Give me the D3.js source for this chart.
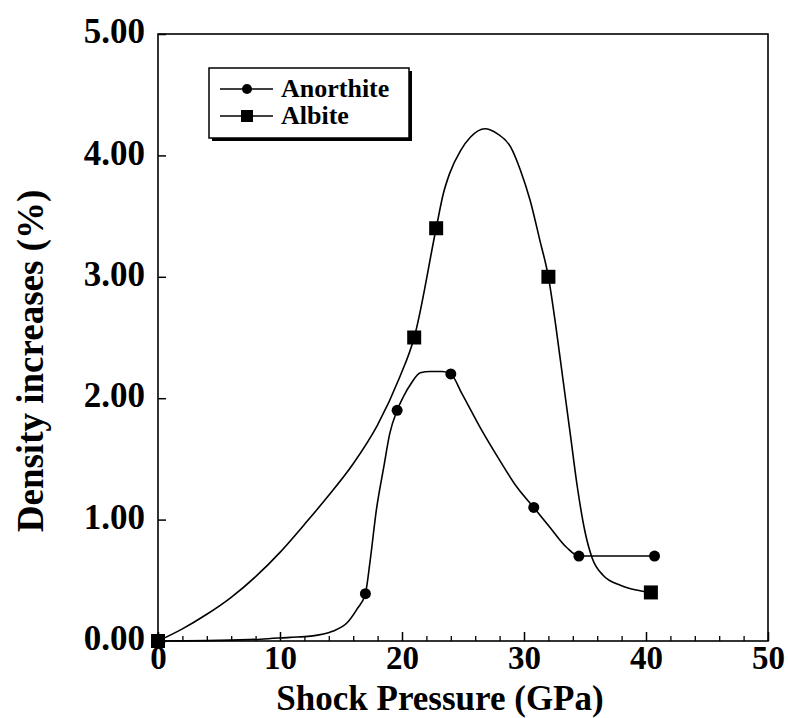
<!DOCTYPE html>
<html>
<head>
<meta charset="utf-8">
<script src="https://cdn.jsdelivr.net/npm/d3@7/dist/d3.min.js"></script>
<style>
  html, body { margin: 0; padding: 0; background: #fff; }
  svg { display: block; }
  text { font-family: "Liberation Serif", "Times New Roman", serif; font-weight: bold; fill: #000; }
</style>
</head>
<body>
<svg id="chart" width="788" height="718"></svg>
<script>
// ---- data: measured points ----
const anorthiteX = [0, 17, 19.6, 24, 30.8, 34.5, 40.7];
const anorthiteY = [0, 0.39, 1.9, 2.2, 1.1, 0.7, 0.7];
const albiteX = [0, 21, 22.8, 32, 40.4];
const albiteY = [0, 2.5, 3.4, 3.0, 0.4];
// ---- data: smooth fitted curves as drawn in the figure ----
const anorthiteFitX = [0, 5, 8.4, 10.8, 12.5, 14.3, 15.5, 16.3, 17, 17.4, 17.9, 18.5, 19.0, 19.6, 20.1, 20.8, 21.5, 22.3, 23.3, 24, 24.9, 26.4, 28.0, 29.4, 30.8, 32.1, 33.5, 34.5, 40.7];
const anorthiteFitY = [0, 0.005, 0.015, 0.03, 0.04, 0.08, 0.15, 0.26, 0.39, 0.67, 1.08, 1.43, 1.71, 1.9, 2.01, 2.13, 2.21, 2.22, 2.22, 2.2, 2.04, 1.76, 1.49, 1.27, 1.1, 0.94, 0.77, 0.7, 0.7];
const albiteFitX = [0, 2, 4, 6, 8, 10, 12, 14, 16, 18, 19.8, 21, 22.8, 23.4, 23.9, 24.8, 25.6, 26.8, 27.8, 28.9, 29.7, 30.5, 31.3, 32, 32.6, 33.2, 33.8, 34.4, 35.0, 35.6, 36.5, 37.9, 39.2, 40.4];
const albiteFitY = [0, 0.1, 0.22, 0.36, 0.53, 0.73, 0.96, 1.2, 1.46, 1.78, 2.17, 2.5, 3.4, 3.69, 3.85, 4.04, 4.15, 4.22, 4.18, 4.07, 3.88, 3.63, 3.30, 3.0, 2.6, 2.15, 1.7, 1.25, 0.9, 0.68, 0.54, 0.46, 0.42, 0.4];
const xTicks = [0, 10, 20, 30, 40, 50];
const xMinorTicks = [2, 4, 6, 8, 12, 14, 16, 18, 22, 24, 26, 28, 32, 34, 36, 38, 42, 44, 46, 48];
const yTicks = [0, 1, 2, 3, 4, 5];
const seriesNames = ["Anorthite", "Albite"];
const xTitle = "Shock Pressure (GPa)";
const yTitle = "Density increases (%)";

// ---- layout ----
const L = 158, R = 768, T = 34, B = 641;
const svg = d3.select("#chart");
const x = d3.scaleLinear().domain([0, 50]).range([L, R]);
const y = d3.scaleLinear().domain([0, 5]).range([B, T]);

// minor x ticks
svg.append("g").attr("transform", `translate(0,${B})`)
  .call(d3.axisBottom(x).tickValues(xMinorTicks).tickSize(-5).tickFormat(""))
  .call(g => g.select(".domain").remove())
  .call(g => g.selectAll("line").attr("stroke", "#000").attr("stroke-width", 1.3));

// major x ticks
svg.append("g").attr("transform", `translate(0,${B})`)
  .call(d3.axisBottom(x).tickValues(xTicks).tickSize(-9).tickPadding(5).tickFormat(d3.format("d")))
  .call(g => g.select(".domain").remove())
  .call(g => g.selectAll("line").attr("stroke", "#000").attr("stroke-width", 1.5))
  .call(g => g.selectAll("text").attr("font-size", 33).attr("font-family", "Liberation Serif").attr("font-weight", "bold").attr("fill", "#000"));

// y ticks
svg.append("g").attr("transform", `translate(${L},0)`)
  .call(d3.axisLeft(y).tickValues(yTicks).tickSize(-8).tickPadding(13).tickFormat(d3.format(".2f")))
  .call(g => g.select(".domain").remove())
  .call(g => g.selectAll("line").attr("stroke", "#000").attr("stroke-width", 1.5))
  .call(g => g.selectAll("text").attr("font-size", 35).attr("dy", "0.25em").attr("font-family", "Liberation Serif").attr("font-weight", "bold").attr("fill", "#000"));

// frame
svg.append("rect").attr("x", L).attr("y", T).attr("width", R - L).attr("height", B - T)
  .attr("fill", "none").attr("stroke", "#000").attr("stroke-width", 1.6);

// titles
svg.append("text").attr("x", 440).attr("y", 710).attr("text-anchor", "middle")
  .attr("font-size", 35).text(xTitle);
svg.append("text").attr("transform", "translate(43,361) rotate(-90)").attr("text-anchor", "middle")
  .attr("font-size", 37).text(yTitle);

// curves
const pairs = (xs, ys) => xs.map((v, i) => [v, ys[i]]);
const anorthite = pairs(anorthiteX, anorthiteY);
const albite = pairs(albiteX, albiteY);
const line = d3.line().x(d => x(d[0])).y(d => y(d[1])).curve(d3.curveMonotoneX);

svg.append("path").datum(pairs(albiteFitX, albiteFitY)).attr("d", line)
  .attr("fill", "none").attr("stroke", "#000").attr("stroke-width", 1.6);
svg.append("path").datum(pairs(anorthiteFitX, anorthiteFitY)).attr("d", line)
  .attr("fill", "none").attr("stroke", "#000").attr("stroke-width", 1.6);

// markers
svg.append("g").selectAll("circle").data(anorthite).join("circle")
  .attr("cx", d => x(d[0])).attr("cy", d => y(d[1])).attr("r", 5.5).attr("fill", "#000");
svg.append("g").selectAll("rect").data(albite).join("rect")
  .attr("x", d => x(d[0]) - 7).attr("y", d => y(d[1]) - 7).attr("width", 14).attr("height", 14).attr("fill", "#000");

// legend
const lg = svg.append("g");
lg.append("rect").attr("x", 212).attr("y", 71).attr("width", 200).attr("height", 70).attr("fill", "#000");
lg.append("rect").attr("x", 209).attr("y", 68).attr("width", 200).attr("height", 70)
  .attr("fill", "#fff").attr("stroke", "#000").attr("stroke-width", 1.5);
const rows = [89, 116];
seriesNames.forEach((name, i) => {
  const ry = rows[i];
  lg.append("line").attr("x1", 220).attr("x2", 273).attr("y1", ry).attr("y2", ry)
    .attr("stroke", "#000").attr("stroke-width", 1.6);
  if (i === 0) lg.append("circle").attr("cx", 247).attr("cy", ry).attr("r", 5).attr("fill", "#000");
  else lg.append("rect").attr("x", 241).attr("y", ry - 6).attr("width", 12).attr("height", 12).attr("fill", "#000");
  lg.append("text").attr("x", 281).attr("y", ry + 8).attr("font-size", 26).text(name);
});
</script>
</body>
</html>
